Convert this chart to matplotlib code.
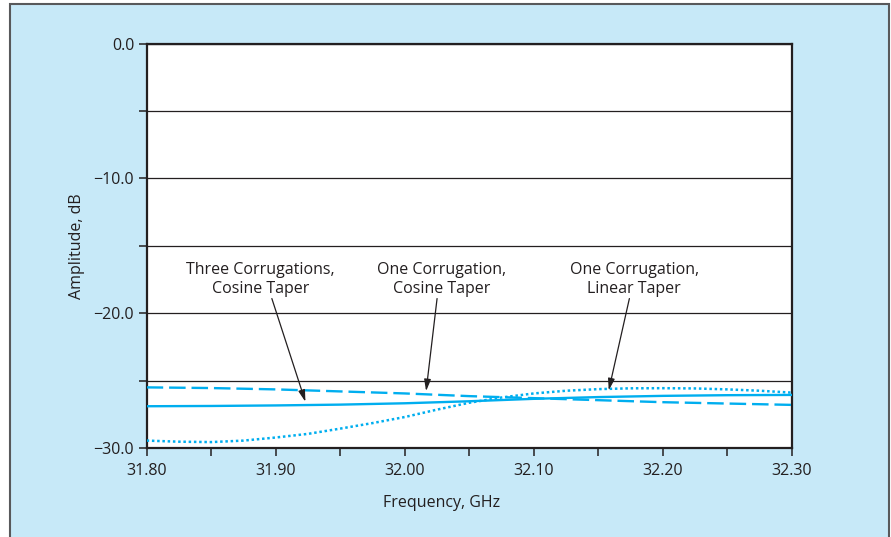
import numpy as np
import matplotlib.pyplot as plt
from matplotlib.patches import Rectangle

plt.rcParams['font.family'] = ['Open Sans', 'DejaVu Sans']

# frequency points, GHz
freq = [31.80, 31.85, 31.90, 31.95, 32.00, 32.05, 32.10, 32.15, 32.20, 32.25, 32.30]
# one corrugation, cosine taper (dashed)
one_cos = [-25.50, -25.55, -25.65, -25.80, -25.95, -26.15, -26.30, -26.45, -26.60, -26.70, -26.80]
# three corrugations, cosine taper (solid)
three_cos = [-26.90, -26.88, -26.84, -26.78, -26.68, -26.53, -26.35, -26.22, -26.13, -26.08, -26.06]

freq_fine = [31.800, 31.825, 31.850, 31.875, 31.900, 31.925, 31.950, 31.975, 32.000, 32.025, 32.050,
             32.075, 32.100, 32.125, 32.150, 32.175, 32.200, 32.225, 32.250, 32.275, 32.300]
# one corrugation, linear taper (dotted)
one_lin = [-29.45, -29.53, -29.56, -29.45, -29.22, -28.95, -28.56, -28.15, -27.70, -27.15, -26.64,
           -26.25, -25.95, -25.75, -25.63, -25.57, -25.56, -25.58, -25.65, -25.75, -25.89]

xticks = [31.80, 31.90, 32.00, 32.10, 32.20, 32.30]
yticks = [-30, -25, -20, -15, -10, -5, 0]

blue = '#00aeef'
bg = '#c7e9f8'
ink = '#231f20'
fs = 11.5

fig = plt.figure(figsize=(8.91, 5.37), dpi=100, facecolor='white')
fig.patches.append(Rectangle((0.0112, -0.02), 0.9866, 1.0126, transform=fig.transFigure,
                             facecolor=bg, edgecolor='#58595b', lw=1.5, zorder=-10))
ax = fig.add_axes([0.1646, 0.1657, 0.7243, 0.7529])

ax.plot(freq, three_cos, '-', color=blue, lw=1.7, zorder=3)
ax.plot(freq, one_cos, color=blue, lw=1.7, dashes=(7, 2.5), zorder=3)
ax.plot(freq_fine, one_lin, color=blue, lw=1.8, dashes=(1, 1.1), zorder=3)

ax.set_xlim(31.80, 32.30)
ax.set_ylim(-30, 0)
ax.set_xticks(xticks)
ax.set_xticklabels(['%.2f' % v for v in xticks])
ax.set_xticks([31.85, 31.95, 32.05, 32.15, 32.25], minor=True)
ax.set_yticks(yticks)
ax.set_yticklabels([('\u2212%.1f' % -v if v < 0 else '%.1f' % v) if v % 10 == 0 else '' for v in yticks])
ax.tick_params(axis='both', which='both', direction='out', length=6, width=1.1, color=ink,
               labelsize=fs, labelcolor=ink)
ax.tick_params(axis='x', which='both', pad=5)
ax.tick_params(axis='y', pad=3)
ax.grid(axis='y', color=ink, lw=0.9)
ax.set_axisbelow(True)
for s in ax.spines.values():
    s.set_color(ink)
    s.set_linewidth(1.6)

ax.set_ylabel('Amplitude, dB', fontsize=fs, color=ink, labelpad=6)
fig.text(441.7 / 891, 1 - 503 / 537, 'Frequency, GHz', ha='center', va='center',
         fontsize=fs, color=ink)

labels = ['Three Corrugations,\nCosine Taper', 'One Corrugation,\nCosine Taper',
          'One Corrugation,\nLinear Taper']
label_x = [31.888, 32.0287, 32.1778]
tails = [(31.897, -18.91), (32.025, -18.91), (32.174, -18.91)]
heads = [(31.923, -26.57), (32.0165, -25.78), (32.158, -25.72)]
for txt, lx, t, h in zip(labels, label_x, tails, heads):
    ax.text(lx, -17.47, txt, ha='center', va='center', multialignment='center',
            fontsize=fs, color=ink, linespacing=1.25)
    ax.annotate('', xy=h, xytext=t,
                arrowprops=dict(arrowstyle='-|>,head_length=0.7,head_width=0.2',
                                color=ink, lw=0.9, shrinkA=0, shrinkB=0))

fig.savefig('out.png', dpi=100)
